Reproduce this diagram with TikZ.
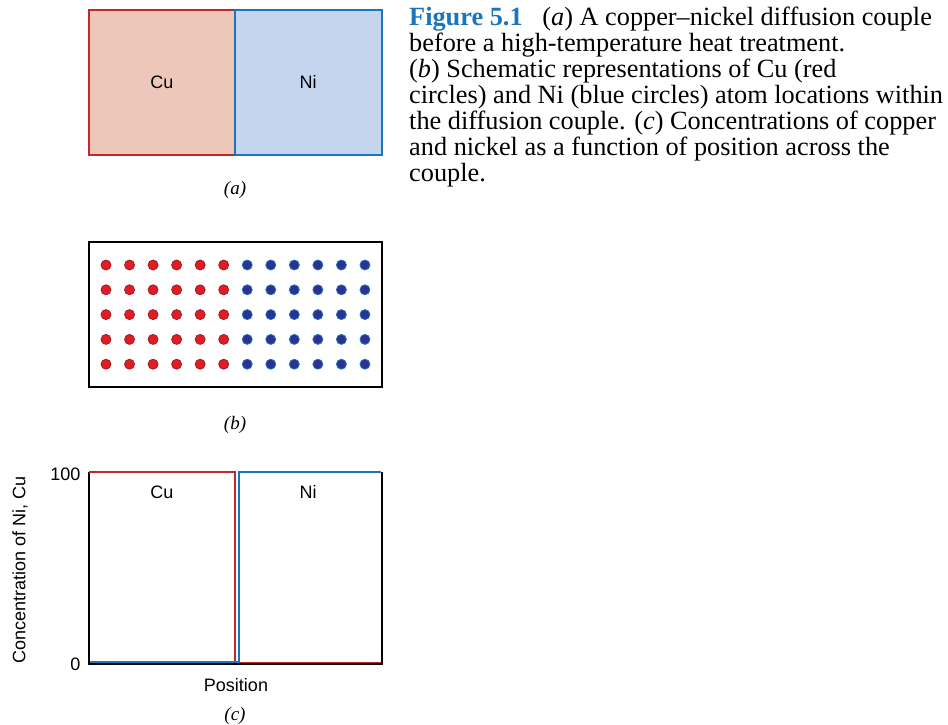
\documentclass[tikz,border=0pt]{standalone}
\usepackage{fontspec}
\setmainfont{Liberation Serif}
\setsansfont{Liberation Sans}
\usetikzlibrary{positioning}
\definecolor{cured}{HTML}{C1272D}
\definecolor{niblue}{HTML}{1B75BC}
\definecolor{cufill}{HTML}{EDC8BA}
\definecolor{nifill}{HTML}{C6D5EE}
\definecolor{atomred}{HTML}{E31B23}
\definecolor{atomblue}{HTML}{2E3192}
\tikzset{
  lab/.style={font=\sffamily\fontsize{18}{20}\selectfont},
  panel/.style={font=\fontsize{19}{20}\selectfont\itshape},
  cuatom/.style={fill=atomred,draw=cured!80!black,line width=0.8pt},
  niatom/.style={fill=atomblue,draw=niblue,line width=0.8pt}
}
\begin{document}
\begin{tikzpicture}[x=1pt,y=-1pt]
\useasboundingbox (0,0) rectangle (948,724);
% (a) the couple before heating
\fill[cufill] (89,10) rectangle (235,155);
\fill[nifill] (235,10) rectangle (382,155);
\draw[cured,line width=1.6pt] (235,10) -- (89,10) -- (89,155) -- (235,155);
\draw[niblue,line width=1.6pt] (235,10) rectangle (382,155);
\node[lab] (cuA) at (162,82) {Cu};
\node[lab] (niA) at (308,82) {Ni};
\node[panel] (capA) at (235,190) {(a)};
% (b) atom sites
\draw[line width=1.8pt] (89,242) rectangle (382,387);
\foreach \i in {0,...,11}
  \foreach \j in {0,...,4} {
    \ifnum\i<6
      \fill[cuatom] (106+23.54*\i,265+24.8*\j) circle (5);
    \else
      \fill[niatom] (106+23.54*\i,265+24.8*\j) circle (5);
    \fi
  }
\node[panel] (capB) at (235,425) {(b)};
% (c) concentration profiles
\draw[line width=1.4pt] (89,472) -- (89,664) -- (382,664) -- (382,472);
\draw[cured,line width=1.5pt] (89,472) -- (235,472) -- (235,662.5) -- (381,662.5);
\draw[niblue,line width=1.5pt] (90,662) -- (239,662) -- (239,472) -- (381,472);
\node[lab] (cuC) at (162,492) {Cu};
\node[lab] (niC) at (308,492) {Ni};
\node[lab,anchor=east] (top) at (84,474) {100};
\node[lab,anchor=east] (bot) at (84,664) {0};
\node[lab,rotate=90] (yax) at (20,570) {Concentration of Ni, Cu};
\node[lab] (xax) at (236,685) {Position};
\node[panel] (capC) at (235,716) {(c)};
% caption
\node[anchor=north west,align=left,inner sep=0pt,
  font=\fontsize{26.3}{26}\selectfont] (cap) at (409,7)
  {\textcolor{niblue}{\textbf{Figure 5.1}}\hspace{0.75em}(\textit{a}) A copper--nickel diffusion couple\\
   before a high-temperature heat treatment.\\
   (\textit{b}) Schematic representations of Cu (red\\
   circles) and Ni (blue circles) atom locations within\\
   the diffusion couple. (\textit{c}) Concentrations of copper\\
   and nickel as a function of position across the\\
   couple.};
\end{tikzpicture}
\end{document}
